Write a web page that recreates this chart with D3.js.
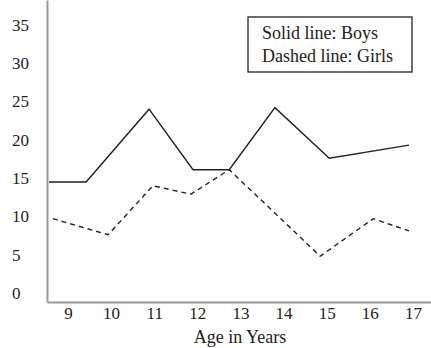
<!DOCTYPE html>
<html lang="en">
<head>
    <title>Boys and girls by age</title>
    <style>
        body { margin: 0; background: #fff; }
        svg text { font-family: "Liberation Serif", "DejaVu Serif", serif !important; fill: #222; }
        .axis path { stroke: #999; stroke-width: 2; }
        .axis text { font-size: 17px; }
        .line { fill: none; stroke: #222; stroke-width: 1.4; }
        .dashed { stroke-dasharray: 5,4; }
    </style>
    <script src="https://cdn.jsdelivr.net/npm/d3@7"></script>
</head>
<body>
    <svg></svg>
    <script>
        // data (ages are where the vertices sit)
        var ageTicks = [9, 10, 11, 12, 13, 14, 15, 16, 17];
        var valueTicks = [0, 5, 10, 15, 20, 25, 30, 35];
        var boysAge = [8.56, 9.42, 10.88, 11.9, 12.74, 13.8, 15.06, 16.91];
        var boysVal = [14.5, 14.5, 24.0, 16.1, 16.1, 24.2, 17.6, 19.3];
        var girlsAge = [8.65, 9.93, 10.97, 11.85, 12.74, 14.85, 16.08, 16.91];
        var girlsVal = [9.7, 7.6, 14.0, 12.9, 16.1, 4.8, 9.7, 8.1];
        var legendLines = ["Solid line: Boys", "Dashed line: Girls"];
        var xTitle = "Age in Years";

        var W = 431, H = 348;
        var left = 47, bottom = 302;
        var serif = "'Liberation Serif', 'DejaVu Serif', serif";

        var svg = d3.select("svg").attr("width", W).attr("height", H);

        var x = d3.scaleLinear().domain([8.513, 17.42]).range([left, W]);
        var y = d3.scaleLinear().domain([-1.18, 38.26]).range([bottom, 0]);

        // y axis, labels left aligned
        var ya = svg.append("g")
            .attr("class", "axis")
            .attr("transform", "translate(" + left + ",0)")
            .call(d3.axisLeft(y).tickValues(valueTicks).tickSize(0).tickSizeOuter(0))
            .attr("font-family", serif);
        ya.selectAll(".tick text")
            .attr("text-anchor", "start")
            .attr("x", 12 - left);

        // x axis
        svg.append("g")
            .attr("class", "axis")
            .attr("transform", "translate(0," + bottom + ")")
            .call(d3.axisBottom(x).tickValues(ageTicks).tickSize(0).tickSizeOuter(0).tickPadding(5))
            .attr("font-family", serif);

        svg.append("text")
            .attr("x", 240)
            .attr("y", 343)
            .attr("text-anchor", "middle")
            .attr("font-family", serif)
            .style("font-size", "18px")
            .text(xTitle);

        var line = d3.line()
            .x(function(d) { return x(d[0]); })
            .y(function(d) { return y(d[1]); });

        svg.append("path")
            .datum(d3.zip(boysAge, boysVal))
            .attr("class", "line")
            .attr("d", line);

        svg.append("path")
            .datum(d3.zip(girlsAge, girlsVal))
            .attr("class", "line dashed")
            .attr("d", line);

        // legend box
        var lg = svg.append("g").attr("transform", "translate(248,17)");
        lg.append("rect")
            .attr("width", 164).attr("height", 55)
            .attr("fill", "#fff").attr("stroke", "#333").attr("stroke-width", 1.4);
        lg.selectAll("text.leg")
            .data(legendLines)
            .enter().append("text")
            .attr("class", "leg")
            .attr("x", 14)
            .attr("y", function(d, i) { return 22 + i * 23; })
            .attr("font-family", serif)
            .style("font-size", "18px")
            .text(function(d) { return d; });
    </script>
</body>
</html>
